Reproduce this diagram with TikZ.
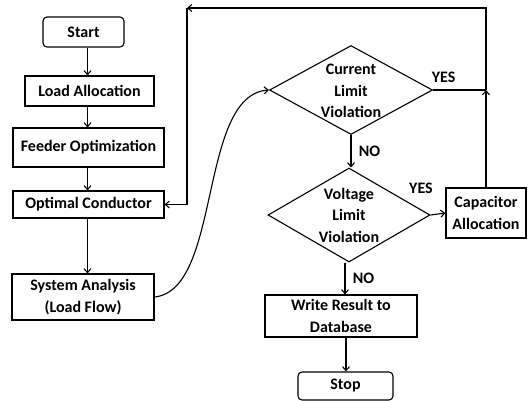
\documentclass[tikz,border=0pt]{standalone}
\usepackage{fontspec}
\setmainfont{Carlito}
\usepackage{tikz}
\usetikzlibrary{arrows.meta, shapes.geometric}

\begin{document}
\begin{tikzpicture}[x=1pt, y=-1pt, >={Straight Barb[length=4pt,width=7pt]},
    line width=1.1pt,
    font=\bfseries\fontsize{16}{21.5}\selectfont,
    box/.style={draw, rectangle, inner sep=0pt, align=center},
    term/.style={box, rounded corners=4pt},
    decision/.style={draw, diamond, inner sep=0pt}]
    \useasboundingbox (0,0) rectangle (531,400);
    % Left column
    \node[term, minimum width=81pt, minimum height=30pt] (start) at (83.5,32) {Start};
    \node[box, minimum width=129pt, minimum height=30pt] (load) at (89.5,91) {Load Allocation};
    \node[box, minimum width=151pt, minimum height=39pt] (feeder) at (88.5,147.5) {Feeder Optimization};
    \node[box, minimum width=151pt, minimum height=27pt] (opt) at (88.5,204.5) {Optimal Conductor};
    \node[box, minimum width=142pt, minimum height=46pt] (sys) at (83,297) {System Analysis\\(Load Flow)};
    \coordinate (colA) at (87.5,0);
%
    % Right column
    \node[decision, minimum width=163pt, minimum height=89pt] (cur) at (351,90) {};
    \node[align=center] (curtxt) at (351,91) {Current\\Limit\\Violation};
    \node[decision, minimum width=162pt, minimum height=94pt] (volt) at (349,215) {};
    \node[align=center] (volttxt) at (349,215) {Voltage\\Limit\\Violation};
    \node[box, minimum width=80pt, minimum height=50pt] (cap) at (486,213) {Capacitor\\Allocation};
    \node[box, minimum width=152pt, minimum height=42pt] (write) at (341,316) {Write Result to\\Database};
    \node[term, minimum width=95pt, minimum height=28pt] (stop) at (345.5,386) {Stop};
%
    % Main flow
    \draw[->] (start.south -| colA) -- (load.north -| colA);
    \draw[->] (load.south -| colA) -- (feeder.north -| colA);
    \draw[->] (feeder.south -| colA) -- (opt.north -| colA);
    \draw[->] (opt.south -| colA) -- (sys.north -| colA);
    \draw[->] (sys.east) .. controls (222,290) and (198,95) .. (cur.west);
    \draw[->] (cur.south) -- (cur.south |- volt.north) node[midway, right=4pt] (no1) {NO};
    \draw[->] (volt.south -| 345,0) -- (write.north -| 345,0) node[midway, right=4pt] (no2) {NO};
    \draw[->] (write.south -| 346,0) -- (stop.north -| 346,0);
    \draw[->] (volt.east) -- (cap.west);
    \node (yes2) at (421,188) {YES};
%
    % Feedback loop
    \coordinate (jn) at (cap.north |- cur.east);
    \coordinate (topR) at (cap.north |- 0,8);
    \coordinate (topL) at (187,8);
    \draw (cur.east) -- (jn) node[pos=0.2, above=4pt] (yes1) {YES};
    \draw[->] (cap.north) -- (jn);
    \draw[->] (jn) -- (topR) -- (topL);
    \draw[->] (topL) |- (opt.east);
\end{tikzpicture}
\end{document}
